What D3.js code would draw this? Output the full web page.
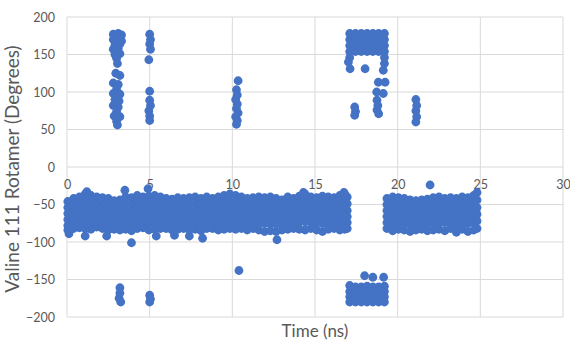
<!DOCTYPE html>
<html>
<head>
<meta charset="utf-8">
<script src="https://cdn.jsdelivr.net/npm/d3@7"></script>
<style>
  html, body { margin: 0; padding: 0; background: #fff; }
  svg text { font-family: Lato, "Liberation Sans", sans-serif; fill: #595959; }
</style>
</head>
<body>
<svg id="chart" width="570" height="341"></svg>
<script>
// main band, first stretch: [time, angles...]
const bandA = [
  [0.05, -46, -54, -62, -70, -78, -84],
  [0.4, -42, -50, -58, -66, -74, -82],
  [0.75, -40, -49, -57, -65, -73, -81],
  [1.1, -36, -46, -55, -64, -73, -82],
  [1.45, -38, -47, -56, -65, -74, -83],
  [1.8, -40, -49, -58, -66, -74, -80],
  [2.15, -41, -50, -58, -66, -74, -82],
  [2.5, -42, -51, -59, -67, -75, -84],
  [2.85, -45, -53, -61, -69, -77, -83],
  [3.2, -44, -52, -60, -68, -76, -84],
  [3.55, -40, -49, -58, -66, -74, -83],
  [3.9, -41, -50, -58, -66, -75, -85],
  [4.25, -38, -47, -56, -65, -74, -82],
  [4.6, -40, -49, -58, -66, -74, -81],
  [4.95, -39, -48, -57, -66, -75, -84],
  [5.3, -38, -47, -56, -65, -74, -83],
  [5.65, -40, -49, -58, -66, -74, -82],
  [6.0, -42, -50, -58, -66, -74, -82],
  [6.35, -43, -51, -59, -67, -75, -84],
  [6.7, -41, -50, -58, -66, -75, -83],
  [7.05, -42, -50, -58, -66, -74, -82],
  [7.4, -41, -50, -58, -66, -74, -84],
  [7.75, -40, -49, -58, -66, -74, -83],
  [8.1, -42, -51, -59, -67, -75, -85],
  [8.45, -40, -49, -57, -65, -73, -82],
  [8.8, -42, -50, -58, -66, -74, -82],
  [9.15, -40, -49, -58, -67, -76, -84],
  [9.5, -38, -47, -56, -65, -74, -83],
  [9.85, -36, -46, -55, -64, -73, -82],
  [10.2, -38, -47, -56, -65, -74, -83],
  [10.55, -40, -49, -58, -67, -75, -82],
  [10.9, -42, -51, -59, -67, -75, -84],
  [11.25, -41, -50, -58, -66, -74, -82],
  [11.6, -40, -49, -58, -66, -75, -84],
  [11.95, -41, -50, -58, -66, -75, -86],
  [12.3, -40, -49, -58, -67, -76, -85],
  [12.65, -42, -51, -60, -68, -76, -86],
  [13.0, -44, -52, -60, -68, -76, -84],
  [13.35, -40, -49, -58, -66, -74, -83],
  [13.7, -42, -51, -59, -67, -75, -82],
  [14.05, -39, -48, -57, -66, -74, -83],
  [14.4, -36, -46, -55, -64, -73, -84],
  [14.75, -40, -49, -58, -66, -74, -82],
  [15.1, -41, -50, -58, -66, -75, -84],
  [15.45, -39, -48, -57, -66, -75, -86],
  [15.8, -40, -49, -58, -67, -76, -83],
  [16.15, -41, -50, -58, -66, -74, -82],
  [16.5, -38, -47, -56, -65, -74, -84],
  [16.8, -36, -46, -55, -64, -73, -83],
  [16.95, -40, -49, -58, -66, -74, -82]
]

// main band after the gap
const bandB = [
  [19.35, -42, -50, -58, -66, -74, -82],
  [19.7, -40, -49, -58, -66, -75, -85],
  [20.05, -41, -50, -58, -66, -74, -83],
  [20.4, -42, -51, -59, -67, -75, -84],
  [20.75, -44, -52, -60, -68, -76, -86],
  [21.1, -45, -53, -61, -69, -77, -84],
  [21.45, -44, -52, -60, -68, -76, -83],
  [21.8, -43, -51, -59, -67, -75, -85],
  [22.15, -41, -50, -58, -66, -75, -84],
  [22.5, -40, -49, -58, -66, -74, -83],
  [22.85, -42, -50, -58, -66, -74, -85],
  [23.2, -41, -50, -58, -66, -74, -82],
  [23.55, -42, -50, -58, -67, -76, -87],
  [23.9, -40, -49, -58, -66, -74, -83],
  [24.25, -41, -50, -58, -66, -75, -86],
  [24.6, -38, -47, -56, -65, -74, -84],
  [24.8, -34, -44, -54, -63, -72, -82]
]

// block of flips near 17-19 ns: [time, angles...]
const flipHigh = [
  [17.1, 178, 170, 162, 154, 146],
  [17.45, 178, 170, 162, 154],
  [17.8, 178, 170, 162, 154],
  [18.15, 178, 170, 162, 154],
  [18.5, 178, 170, 162, 154],
  [18.85, 178, 170, 162, 154],
  [19.2, 178, 170, 162, 154, 146]
]
const flipLow = [
  [17.1, -158, -166, -173, -180],
  [17.45, -160, -167, -174, -180],
  [17.8, -160, -167, -174, -180],
  [18.15, -159, -166, -173, -180],
  [18.5, -160, -167, -174, -180],
  [18.85, -160, -167, -174, -180],
  [19.2, -159, -166, -173, -180]
]

// scattered single frames: [time, angle]
const strays = [
  [0.12, -89], [1.1, -92], [2.4, -92], [3.9, -101], [3.5, -31], [4.9, -29],
  [1.2, -33], [12.7, -97], [5.4, -92], [6.5, -91], [7.4, -92], [8.2, -95],
  [14.3, -34], [16.75, -34], [21.96, -24],
  // ~3 ns
  [2.8, 177], [3.1, 178], [3.3, 176], [2.8, 170], [3.1, 171], [3.3, 168],
  [2.9, 163], [3.2, 164], [2.8, 157], [3.1, 158], [3.2, 151], [2.9, 150],
  [3.0, 145], [3.05, 138], [2.95, 125], [3.2, 122],
  [2.8, 112], [3.1, 110], [3.0, 104], [2.8, 98], [3.2, 97], [2.9, 90],
  [3.15, 88], [2.8, 82], [3.1, 80], [3.0, 74], [2.85, 68], [3.2, 67],
  [3.0, 61], [3.05, 56],
  [3.2, -161], [3.2, -168], [3.15, -175], [3.25, -180],
  // ~5 ns
  [5.0, 177], [5.05, 170], [5.0, 164], [5.05, 157], [4.95, 143], [5.0, 101],
  [5.0, 89], [5.05, 82], [4.95, 75], [5.0, 68], [5.0, 62],
  [5.0, -171], [5.05, -176], [5.0, -180],
  // ~10 ns
  [10.35, 115], [10.25, 103], [10.3, 96], [10.2, 90], [10.3, 84], [10.25, 78],
  [10.35, 72], [10.2, 67], [10.3, 62], [10.25, 57], [10.4, -138],
  // ~17-21 ns
  [17.02, 140], [17.12, 131], [18.03, 131], [19.13, 129], [19.2, 138],
  [18.83, 113], [19.24, 113], [18.73, 100], [19.13, 98], [18.75, 89],
  [18.8, 82], [18.75, 76], [18.85, 71],
  [17.4, 80], [17.45, 74], [17.4, 69],
  [21.1, 90], [21.15, 82], [21.1, 75], [21.15, 67], [21.1, 60],
  [18.0, -145], [18.5, -147], [19.15, -147]
]

const xTicks = [0, 5, 10, 15, 20, 25, 30]
const yTicks = [-200, -150, -100, -50, 0, 50, 100, 150, 200]

const svg = d3.select('#chart')
const margin = { left: 67, right: 7, top: 17, bottom: 24 }
const width = 570 - margin.left - margin.right
const height = 341 - margin.top - margin.bottom

const x = d3.scaleLinear().domain([0, 30]).range([0, width])
const y = d3.scaleLinear().domain([-200, 200]).range([height, 0])

const g = svg.append('g').attr('transform', `translate(${margin.left},${margin.top})`)

// grid
g.append('g')
  .selectAll('line')
  .data(yTicks)
  .join('line')
  .attr('x1', 0).attr('x2', width)
  .attr('y1', d => y(d)).attr('y2', d => y(d))
  .attr('stroke', '#d9d9d9')
g.append('g')
  .selectAll('line')
  .data(xTicks)
  .join('line')
  .attr('x1', d => x(d)).attr('x2', d => x(d))
  .attr('y1', 0).attr('y2', height)
  .attr('stroke', '#d9d9d9')

// axes labels
const yAxis = g.append('g')
  .call(d3.axisLeft(y).tickValues(yTicks).tickSize(0).tickPadding(12))
yAxis.select('.domain').remove()
yAxis.selectAll('text').style('font-size', '12.5px')

const xAxis = g.append('g')
  .attr('transform', `translate(0,${y(0)})`)
  .call(d3.axisBottom(x).tickValues(xTicks).tickSize(0).tickPadding(13))
xAxis.select('.domain').remove()
xAxis.selectAll('text').style('font-size', '12.5px')

// points
const columnsToPoints = cols => cols.flatMap(([t, ...vals]) => vals.map(v => [t, v]))
const points = [
  ...columnsToPoints(bandA),
  ...columnsToPoints(bandB),
  ...columnsToPoints(flipHigh),
  ...columnsToPoints(flipLow),
  ...strays
]

g.append('g')
  .selectAll('circle')
  .data(points)
  .join('circle')
  .attr('cx', d => x(d[0]))
  .attr('cy', d => y(d[1]))
  .attr('r', 4.4)
  .attr('fill', '#4472c4')

// titles
svg.append('text')
  .attr('x', margin.left + width / 2)
  .attr('y', 337)
  .attr('text-anchor', 'middle')
  .style('font-size', '17px')
  .text('Time (ns)')

svg.append('text')
  .attr('transform', `translate(19,${margin.top + height / 2 + 2}) rotate(-90)`)
  .attr('text-anchor', 'middle')
  .style('font-size', '19px')
  .text('Valine 111 Rotamer (Degrees)')
</script>
</body>
</html>
